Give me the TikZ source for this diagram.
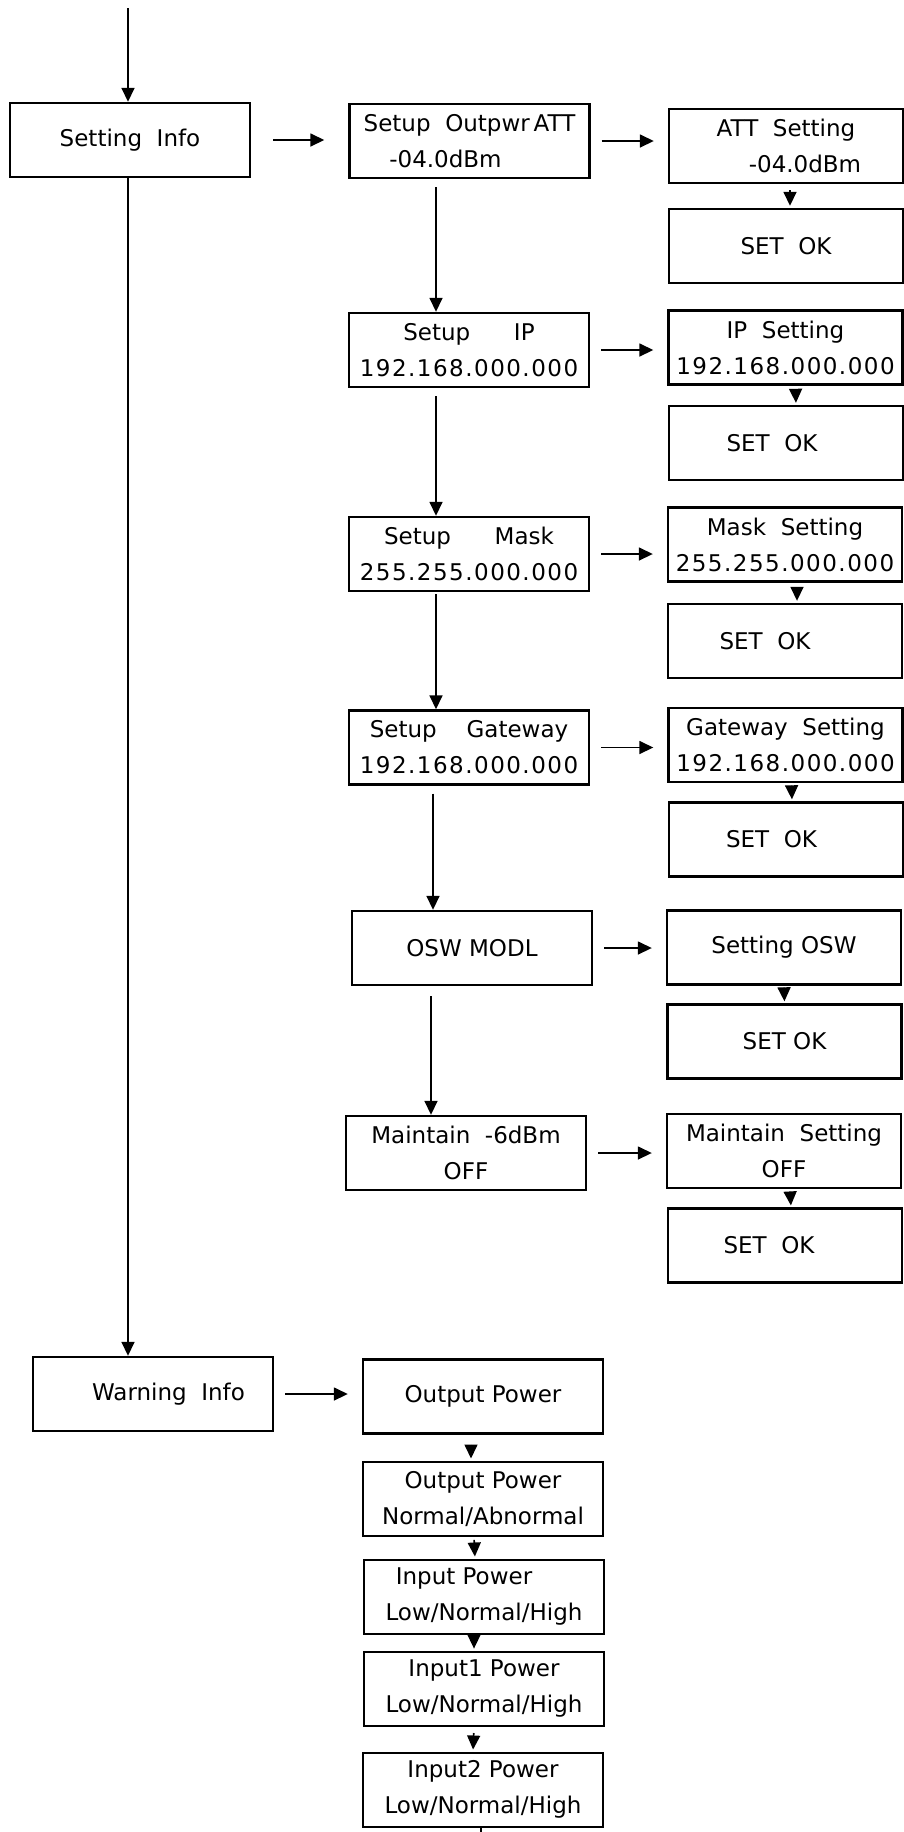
\documentclass[tikz,border=0pt]{standalone}
\usepackage{fontspec}
\setmainfont{DejaVu Sans}
\newfontfamily\ipfont[LetterSpace=6.5]{DejaVu Sans}
\usetikzlibrary{arrows.meta}
\tikzset{
	box/.style = {draw, line width=1.2pt, minimum width=120pt, minimum height=37pt, inner sep=0pt, align=center, font=\fontsize{11.5}{18}\selectfont},
	rbox/.style = {box, minimum width=117pt},
	arr/.style = {-{Triangle[length=7pt,width=6.5pt]}, line width=0.8pt},
	gap/.style = {shorten <=5.5pt, shorten >=7pt},
	dnarr/.style = {arr, shorten <=1.5pt, shorten >=1pt}
}

\begin{document}
\begin{tikzpicture}[x=0.5pt, y=-0.5pt]
				\useasboundingbox (0,0) rectangle (904,1832);
				\coordinate (start) at (128,8);
				\coordinate (vx) at (436,0);
				\coordinate (vxa) at (433,0);
				\coordinate (vxb) at (431,0);
				\coordinate (tail) at (481,1850);
				\node (setinfo) at (130,140) [box] {Setting\ \ Info};
				\node (outpwr) at (469.5,141) [box] {Setup\ \ Outpwr\,ATT\\-04.0dBm\hspace*{24pt}};
				\node (attset) at (786,146) [rbox] {ATT\ \ Setting\\\hspace*{19pt}-04.0dBm};
				\node (attok) at (786,246) [rbox] {SET\ \ OK};
				\node (setip) at (469,350) [box] {Setup\hspace{1.9em}IP\\{\ipfont 192.168.000.000}};
				\node (ipset) at (785.5,347.5) [rbox] {IP\ \ Setting\\{\ipfont 192.168.000.000}};
				\node (ipok) at (786,443) [rbox] {SET\ \ OK\hspace*{14pt}};
				\node (setmask) at (469,554) [box] {Setup\hspace{1.9em}Mask\\{\ipfont 255.255.000.000}};
				\node (maskset) at (785,544.5) [rbox] {Mask\ \ Setting\\{\ipfont 255.255.000.000}};
				\node (maskok) at (785,641) [rbox] {SET\ \ OK\hspace*{20pt}};
				\node (setgw) at (469,747.5) [box] {Setup\hspace{1.3em}Gateway\\{\ipfont 192.168.000.000}};
				\node (gwset) at (785.5,745) [rbox] {Gateway\ \ Setting\\{\ipfont 192.168.000.000}};
				\node (gwok) at (786,839.5) [rbox] {SET\ \ OK\hspace*{14.5pt}};
				\node (oswmodl) at (472,948) [box] {OSW MODL};
				\node (oswset) at (784,947.5) [rbox] {Setting OSW};
				\node (oswok) at (784.5,1041.5) [rbox] {SET OK};
				\node (maintain) at (466,1153) [box] {Maintain\ \ -6dBm\\OFF};
				\node (mntset) at (784,1151) [rbox] {Maintain\ \ Setting\\OFF};
				\node (mntok) at (785,1245.6) [rbox] {SET\ \ OK\hspace*{16pt}};
				\node (warninfo) at (153,1394) [box] {\hspace*{15.5pt}Warning\ \ Info};
				\node (outp) at (483,1396.5) [box] {Output Power};
				\node (outpst) at (483,1498.7) [box] {Output Power\\Normal/Abnormal};
				\node (inp) at (484,1596.7) [box] {Input Power\hspace*{20pt}\\Low/Normal/High};
				\node (inp1) at (484,1688.8) [box] {Input1 Power\\Low/Normal/High};
				\node (inp2) at (483,1789.7) [box] {Input2 Power\\Low/Normal/High};
				\draw[arr] (start) -- (setinfo.north -| start);
				\draw[arr] (setinfo.south -| start) -- (warninfo.north -| start);
				\draw[arr, shorten <=11pt, shorten >=12pt] (setinfo.east) -- (setinfo.east -| outpwr.west);
				\draw[arr, gap] (outpwr.east) -- (outpwr.east -| attset.west);
				\draw[arr, gap] (setip.east) -- (setip.east -| ipset.west);
				\draw[arr, gap] (setmask.east) -- (setmask.east -| maskset.west);
				\draw[arr, gap] (setgw.east) -- (setgw.east -| gwset.west);
				\draw[arr, gap] (oswmodl.east) -- (oswmodl.east -| oswset.west);
				\draw[arr, gap] (maintain.east) -- (maintain.east -| mntset.west);
				\draw[arr, gap] (warninfo.east) -- (warninfo.east -| outp.west);
				\draw[arr, shorten <=4pt] (outpwr.south -| vx) -- (setip.north -| vx);
				\draw[arr, shorten <=4pt] (setip.south -| vx) -- (setmask.north -| vx);
				\draw[arr, shorten <=1pt] (setmask.south -| vx) -- (setgw.north -| vx);
				\draw[arr, shorten <=4pt] (setgw.south -| vxa) -- (oswmodl.north -| vxa);
				\draw[arr, shorten <=5pt] (oswmodl.south -| vxb) -- (maintain.north -| vxb);
				\draw[dnarr, shorten <=3pt] ([xshift=2pt]attset.south) -- ([xshift=2pt]attok.north);
				\draw[dnarr, shorten <=3pt] ([xshift=5pt]ipset.south) -- ([xshift=5pt]ipok.north);
				\draw[dnarr, shorten <=3pt] ([xshift=6pt]maskset.south) -- ([xshift=6pt]maskok.north);
				\draw[dnarr, shorten <=3pt] ([xshift=3pt]gwset.south) -- ([xshift=3pt]gwok.north);
				\draw[dnarr, shorten <=1.5pt] (oswset.south) -- (oswok.north);
				\draw[dnarr, shorten <=1.5pt] ([xshift=3pt]mntset.south) -- ([xshift=3pt]mntok.north);
				\draw[dnarr, shorten <=5pt] ([xshift=-6pt]outp.south) -- ([xshift=-6pt]outpst.north);
				\draw[dnarr] ([xshift=-4.5pt]outpst.south) -- ([xshift=-4.5pt]inp.north);
				\draw[dnarr] ([xshift=-5pt]inp.south) -- ([xshift=-5pt]inp1.north);
				\draw[dnarr, shorten <=3pt] ([xshift=-5pt]inp1.south) -- ([xshift=-5pt]inp2.north);
				\draw[line width=0.8pt] (inp2.south -| tail) -- (tail);
\end{tikzpicture}
\end{document}
